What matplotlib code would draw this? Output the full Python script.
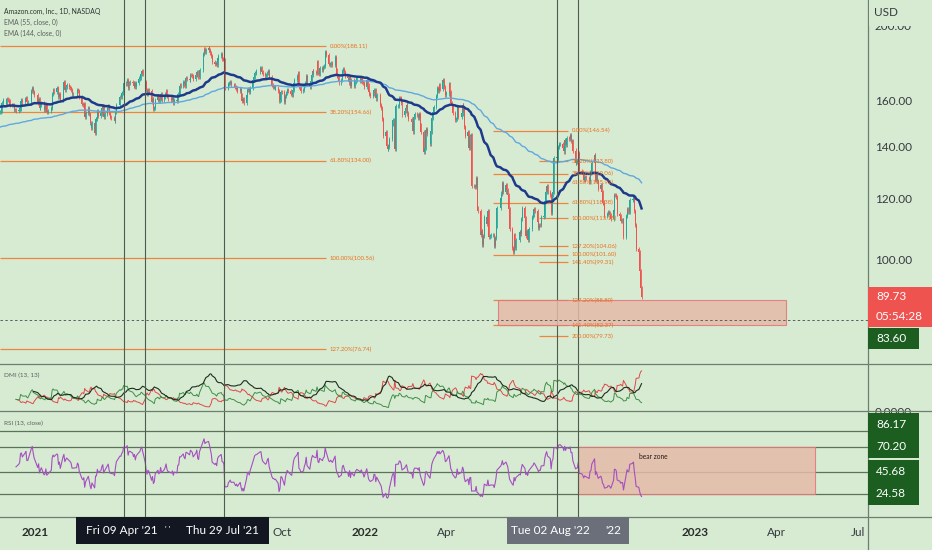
import numpy as np
import pandas as pd
import matplotlib
matplotlib.use("Agg")
import matplotlib.pyplot as plt
import matplotlib.dates as mdates
from matplotlib.patches import Rectangle
from matplotlib.ticker import NullLocator, NullFormatter

# AMZN daily closes (split adjusted), one list per month
close_2020_11 = [154.9, 155.4, 159.2, 160.3, 158.4]
close_2020_12 = [161.0, 160.6, 160.1, 158.1, 158.3, 158.1, 155.6, 155.9, 155.2, 156.0, 156.5,
                 160.0, 160.3, 159.3, 160.9, 161.6, 159.3, 159.3, 164.7, 166.1, 164.3, 162.8]
close_2021_01 = [159.3, 160.9, 156.9, 158.1, 159.1, 155.7, 156.0, 158.1, 155.0, 155.4, 156.9,
                 163.2, 165.1, 164.4, 166.1, 166.0, 162.0, 163.2, 160.3]
close_2021_02 = [167.1, 169.0, 165.5, 166.7, 167.9, 166.6, 166.2, 165.5, 163.3, 163.3, 163.5,
                 165.5, 164.9, 162.1, 158.5, 157.9, 158.6, 152.6, 154.6]
close_2021_03 = [156.8, 154.0, 150.1, 147.6, 150.0, 145.7, 151.5, 151.5, 155.2, 153.1, 154.2,
                 156.5, 157.6, 152.6, 153.8, 156.8, 157.8, 154.4, 152.4, 152.3, 152.0, 151.0, 154.7]
close_2021_04 = [158.0, 161.8, 161.7, 163.8, 164.5, 168.6, 168.5, 170.0, 166.4, 168.9, 169.3,
                 168.6, 167.3, 168.6, 166.6, 168.9, 171.0, 171.5, 173.4, 174.6, 173.4]
close_2021_05 = [169.2, 165.5, 163.5, 165.3, 164.7, 159.5, 161.1, 156.1, 156.9, 160.6, 162.4,
                 160.2, 160.8, 163.4, 160.5, 162.0, 163.1, 165.0, 162.3, 161.2]
close_2021_06 = [160.3, 161.2, 159.0, 160.3, 159.9, 163.2, 163.3, 167.5, 167.4, 169.2, 168.0,
                 167.5, 171.1, 171.0, 170.3, 172.9, 172.6, 172.3, 171.0, 172.8, 174.4, 172.0]
close_2021_07 = [171.6, 175.5, 183.8, 186.6, 184.9, 186.1, 187.1, 185.9, 184.5, 182.9, 179.6,
                 178.6, 179.2, 178.2, 181.7, 182.8, 184.1, 181.4, 181.3, 180.4, 166.4]
close_2021_08 = [166.6, 168.3, 168.8, 169.4, 167.8, 167.9, 166.6, 165.6, 166.1, 164.7, 165.9,
                 162.9, 160.2, 161.0, 159.0, 163.1, 165.5, 165.9, 164.4, 166.1, 170.2, 172.0]
close_2021_09 = [173.9, 174.5, 174.6, 176.2, 176.3, 174.2, 173.2, 172.2, 172.6, 173.9, 174.6,
                 172.0, 167.9, 166.9, 166.9, 166.4, 166.5, 164.7, 159.8, 160.6, 164.3]
close_2021_10 = [164.2, 159.5, 162.2, 163.9, 165.2, 164.6, 163.2, 162.9, 165.4, 168.7, 170.3,
                 172.3, 173.6, 166.9, 166.5, 165.0, 165.5, 167.6, 168.8, 172.3, 168.6]
close_2021_11 = [166.8, 169.9, 173.0, 175.0, 174.4, 174.0, 179.3, 174.0, 173.5, 176.3, 175.2,
                 177.0, 177.6, 184.8, 183.1, 178.5, 178.1, 179.1, 178.0, 182.2, 175.4]
close_2021_12 = [172.2, 171.4, 169.0, 170.2, 174.9, 176.0, 174.2, 172.2, 171.4, 169.0, 172.0,
                 167.2, 170.0, 167.5, 169.1, 170.4, 171.1, 169.7, 170.7, 169.2, 168.6, 166.7]
close_2022_01 = [170.4, 167.5, 164.4, 163.3, 162.6, 163.3, 165.4, 165.4, 161.2, 163.0, 158.1,
                 156.7, 151.9, 144.4, 146.1, 140.0, 138.9, 139.6, 143.0, 149.6]
close_2022_02 = [151.2, 151.3, 138.8, 157.6, 157.8, 161.4, 161.2, 159.0, 153.3, 155.2, 156.9,
                 158.1, 154.2, 151.5, 150.5, 146.2, 152.4, 153.8, 153.6]
close_2022_03 = [152.3, 154.0, 148.9, 145.9, 137.5, 139.3, 146.8, 147.2, 145.0, 140.9, 146.2,
                 152.3, 155.0, 157.4, 162.5, 166.2, 164.8, 167.6, 165.9, 170.0, 169.1, 166.9, 163.0]
close_2022_04 = [163.6, 168.3, 164.1, 159.0, 157.8, 154.5, 151.1, 151.8, 157.2, 152.6, 154.2,
                 157.9, 155.9, 148.3, 144.3, 146.1, 139.4, 144.4, 144.6, 124.3]
close_2022_05 = [124.5, 124.1, 127.4, 116.6, 115.7, 107.7, 108.9, 104.6, 107.4, 113.5, 111.1,
                 115.6, 107.1, 107.3, 107.6, 107.6, 104.1, 106.8, 110.4, 116.7, 120.2]
close_2022_06 = [121.7, 125.5, 122.3, 124.8, 123.0, 121.2, 116.1, 109.7, 103.7, 102.3, 107.7,
                 103.7, 106.2, 108.7, 108.0, 112.9, 116.5, 113.2, 107.4, 108.9, 106.2]
close_2022_07 = [109.6, 113.5, 114.3, 116.3, 115.5, 111.8, 110.0, 111.0, 110.8, 113.6, 113.8,
                 118.9, 122.4, 124.6, 122.4, 121.1, 114.8, 121.0, 122.3, 135.0]
close_2022_08 = [135.4, 134.2, 139.5, 140.8, 140.8, 139.4, 137.8, 142.7, 140.6, 143.6, 143.2,
                 144.8, 142.1, 142.3, 138.2, 133.2, 133.6, 133.8, 137.3, 130.2, 129.8, 128.7, 126.8]
close_2022_09 = [127.8, 127.5, 126.1, 129.5, 129.8, 133.3, 136.5, 126.8, 128.6, 126.3, 123.5,
                 124.7, 122.2, 118.5, 117.5, 114.0, 114.4, 115.1, 115.0, 114.1, 113.0]
close_2022_10 = [115.9, 121.1, 121.0, 120.3, 114.6, 113.7, 112.2, 112.5, 112.5, 106.9, 113.8,
                 116.4, 115.1, 115.3, 119.3, 119.8, 120.6, 115.7, 111.0, 103.4, 102.4]
close_2022_11 = [96.8, 92.1, 89.73]

months = [
    ("2020-11", close_2020_11), ("2020-12", close_2020_12), ("2021-01", close_2021_01),
    ("2021-02", close_2021_02), ("2021-03", close_2021_03), ("2021-04", close_2021_04),
    ("2021-05", close_2021_05), ("2021-06", close_2021_06), ("2021-07", close_2021_07),
    ("2021-08", close_2021_08), ("2021-09", close_2021_09), ("2021-10", close_2021_10),
    ("2021-11", close_2021_11), ("2021-12", close_2021_12), ("2022-01", close_2022_01),
    ("2022-02", close_2022_02), ("2022-03", close_2022_03), ("2022-04", close_2022_04),
    ("2022-05", close_2022_05), ("2022-06", close_2022_06), ("2022-07", close_2022_07),
    ("2022-08", close_2022_08), ("2022-09", close_2022_09), ("2022-10", close_2022_10),
    ("2022-11", close_2022_11),
]
market_holidays = ["2020-11-26", "2020-12-25", "2021-01-01", "2021-01-18", "2021-02-15",
                   "2021-04-02", "2021-05-31", "2021-07-05", "2021-09-06", "2021-11-25",
                   "2021-12-24", "2022-01-17", "2022-02-21", "2022-04-15", "2022-05-30",
                   "2022-06-20", "2022-07-04", "2022-09-05"]

# chart annotations
ema55_start, ema144_start = 157.5, 148.0
fib_main = [("0.00%", 188.11), ("38.20%", 154.66), ("61.80%", 134.00),
            ("100.00%", 100.56), ("127.20%", 76.74)]
fib_a = [("0.00%", 146.54), ("38.20%", 129.06), ("61.80%", 118.38), ("100.00%", 101.60),
         ("127.20%", 88.80), ("141.40%", 82.37)]
fib_b = [("38.20%", 133.80), ("61.80%", 125.92), ("100.00%", 113.15), ("127.20%", 104.06),
         ("141.40%", 99.31), ("200.00%", 79.73)]
vline_dates = ["2021-04-09", "2021-05-03", "2021-07-29", "2022-08-02", "2022-08-25"]
rsi_levels = [86.17, 70.20, 45.68, 24.58]
last_price, last_timer, marked_price = 89.73, "05:54:28", 83.60
time_ticks = ["2021-01-01", "2021-10-01", "2022-01-01", "2022-04-01",
              "2023-01-01", "2023-04-01", "2023-07-01"]
time_labels = ["2021", "Oct", "2022", "Apr", "2023", "Apr", "Jul"]
price_ticks = [100, 120, 140, 160, 200]

# ---- build dates / ohlc
hol = set(pd.to_datetime(market_holidays))
dates, closes = [], []
for i, (m, vals) in enumerate(months):
    start = pd.Timestamp(m + "-01")
    days = [d for d in pd.bdate_range(start, start + pd.offsets.MonthEnd(0)) if d not in hol]
    days = days[-len(vals):] if i == 0 else days[:len(vals)]
    dates += days
    closes += vals[:len(days)]
dates = pd.DatetimeIndex(dates)
closes = np.array(closes)
opens = np.r_[closes[0], closes[:-1]]
WICK = 0.006
highs = np.maximum(opens, closes) * (1 + WICK)
lows = np.minimum(opens, closes) * (1 - WICK)


def ema(x, n, seed):
    a = 2 / (n + 1)
    out = np.empty(len(x))
    prev = seed
    for i, v in enumerate(x):
        prev = a * v + (1 - a) * prev
        out[i] = prev
    return out


def rma(x, n):
    out = np.full(len(x), np.nan)
    out[n - 1] = np.mean(x[:n])
    for i in range(n, len(x)):
        out[i] = (out[i - 1] * (n - 1) + x[i]) / n
    return out


ema55 = ema(closes, 55, ema55_start)
ema144 = ema(closes, 144, ema144_start)

delta = np.diff(closes)
avg_gain = rma(np.clip(delta, 0, None), 13)
avg_loss = rma(np.clip(-delta, 0, None), 13)
rsi = 100 - 100 / (1 + avg_gain / avg_loss)

up_move = highs[1:] - highs[:-1]
down_move = lows[:-1] - lows[1:]
plus_dm = np.where((up_move > down_move) & (up_move > 0), up_move, 0.0)
minus_dm = np.where((down_move > up_move) & (down_move > 0), down_move, 0.0)
tr = np.maximum.reduce([highs[1:] - lows[1:], np.abs(highs[1:] - closes[:-1]),
                        np.abs(lows[1:] - closes[:-1])])
atr = rma(tr, 13)
plus_di = 100 * rma(plus_dm, 13) / atr
minus_di = 100 * rma(minus_dm, 13) / atr
dx = np.abs(plus_di - minus_di) / (plus_di + minus_di)
adx = np.full(len(dx), np.nan)
adx[12 + 12:] = 100 * rma(dx[12:], 13)[12:]

# ---- figure
BG = "#d7ebd3"
TXT = "#363a3f"
W, H = 932, 550
plt.rcParams["font.family"] = ["Lato", "DejaVu Sans"]
fig = plt.figure(figsize=(W / 100, H / 100), dpi=100, facecolor=BG)


def frame(x0, y0, x1, y1):
    return [x0 / W, 1 - y1 / H, (x1 - x0) / W, (y1 - y0) / H]


def fig_rect(x0, y0, x1, y1, fc, ec="none", z=5):
    fig.add_artist(Rectangle((x0 / W, 1 - y1 / H), (x1 - x0) / W, (y1 - y0) / H,
                             transform=fig.transFigure, fc=fc, ec=ec, lw=0.8, zorder=z))


def fig_text(x, y, s, **kw):
    kw.setdefault("zorder", 7)
    fig.text(x / W, 1 - y / H, s, **kw)


ax = fig.add_axes(frame(0, 0, 868, 364))
dax = fig.add_axes(frame(0, 364, 868, 411), sharex=ax)
rax = fig.add_axes(frame(0, 411, 868, 517), sharex=ax)
for a in (ax, dax, rax):
    a.set_facecolor(BG)
    for s in a.spines.values():
        s.set_visible(False)

x_left = pd.Timestamp("2021-01-01") - pd.Timedelta(days=38.7)
x_right = x_left + pd.Timedelta(days=960.2)
ax.set_xlim(x_left, x_right)
ax.set_yscale("log")
ax.set_ylim(73.5, 215.7)

# candles
up = closes >= opens
colors = np.where(up, "#26a69a", "#ef5350")
ax.vlines(dates, lows, highs, colors=colors, lw=0.6, zorder=3)
body = np.maximum(np.abs(closes - opens), 0.12)
ax.bar(dates, body, bottom=np.minimum(opens, closes), width=1.1, color=colors,
       linewidth=0, zorder=3)

ax.plot(dates, ema144, color="#5fa8e0", lw=1.0, zorder=4)
ax.plot(dates, ema55, color="#1e3a8a", lw=1.8, zorder=4)

# fibonacci levels
FIB = "#f0843c"
FIB_TXT = "#e8701c"
fib_sets = [(fib_main, x_left, pd.Timestamp("2021-11-19"), pd.Timestamp("2021-11-23")),
            (fib_a, pd.Timestamp("2022-05-23"), pd.Timestamp("2022-08-14"), pd.Timestamp("2022-08-18")),
            (fib_b, pd.Timestamp("2022-07-13"), pd.Timestamp("2022-08-14"), pd.Timestamp("2022-08-18"))]
for levels, x0, x1, xt in fib_sets:
    for name, p in levels:
        ax.hlines(p, x0, x1, color=FIB, lw=0.9, zorder=2)
        ax.text(xt, p, f"{name}({p:.2f})", fontsize=4.3, color=FIB_TXT, va="center",
                ha="left", zorder=6)

# zone boxes
zx0 = mdates.date2num(pd.Timestamp("2022-05-28"))
zx1 = mdates.date2num(pd.Timestamp("2023-04-12"))
ax.add_patch(Rectangle((zx0, 82.37), zx1 - zx0, 88.80 - 82.37, fc="#e4baa8",
                       ec="#e57373", lw=0.8, alpha=0.85, zorder=5))
ax.axhline(marked_price, color="#5a5f5a", lw=0.7, ls=(0, (2.5, 2.5)), zorder=5)

# DMI pane
dax.plot(dates[1:], minus_di, color="#e04848", lw=0.7)
dax.plot(dates[1:], plus_di, color="#3f8f46", lw=0.7)
dax.plot(dates[1:], adx, color="#1d2d1d", lw=0.8)
dax.set_ylim(0, 60)

# RSI pane
rax.plot(dates[1:], rsi, color="#a550c0", lw=0.8, zorder=4)
rax.set_ylim(2.2, 105.1)
for lv in rsi_levels:
    rax.axhline(lv, color="#5b735b", lw=0.9, zorder=2)
bz0 = mdates.date2num(pd.Timestamp("2022-08-25"))
bz1 = mdates.date2num(pd.Timestamp("2023-05-14"))
rax.add_patch(Rectangle((bz0, 24.58), bz1 - bz0, 70.20 - 24.58, fc="#e4baa8",
                        ec="#e57373", lw=0.8, alpha=0.85, zorder=3))
rax.text(mdates.date2num(pd.Timestamp("2022-11-16")), 60.5, "bear zone", fontsize=4.8,
         color="#2a1a1a", ha="center", va="center", zorder=5)

for d in vline_dates:
    for a in (ax, dax, rax):
        a.axvline(pd.Timestamp(d), color="#4f5b4f", lw=0.8, zorder=4)

# axes ticks
ax.yaxis.tick_right()
ax.yaxis.set_minor_locator(NullLocator())
ax.yaxis.set_minor_formatter(NullFormatter())
ax.set_yticks(price_ticks)
ax.set_yticklabels([f"{t:.2f}" for t in price_ticks])
ax.tick_params(axis="y", length=0, pad=5, labelsize=8.5, labelcolor=TXT)
ax.tick_params(axis="x", length=0, labelbottom=False)

dax.yaxis.tick_right()
dax.set_yticks([0])
dax.set_yticklabels(["0.0000"])
dax.tick_params(axis="y", length=0, pad=5, labelsize=8.5, labelcolor=TXT)
dax.tick_params(axis="x", length=0, labelbottom=False)

rax.set_yticks([])
rax.set_xticks([pd.Timestamp(t) for t in time_ticks])
rax.set_xticklabels(time_labels)
rax.tick_params(axis="x", length=0, pad=7, labelsize=8.5, labelcolor=TXT)
for lab in rax.get_xticklabels():
    if lab.get_text().isdigit():
        lab.set_fontweight("bold")
        lab.set_color("#2a2e2a")

# separators
for y in (364, 411, 517):
    fig.add_artist(plt.Line2D([0, 1], [1 - y / H] * 2, transform=fig.transFigure,
                              color="#6f7f6f", lw=0.9, zorder=6))
fig.add_artist(plt.Line2D([868 / W] * 2, [0, 1], transform=fig.transFigure,
                          color="#6f7f6f", lw=0.9, zorder=6))

# top of price scale covered by the currency label
fig_rect(869, 0, 932, 26, BG, z=6)
fig_text(874, 13, "USD", fontsize=8.5, color=TXT, va="center")


def price_y(p):
    return H - ax.transData.transform((0, p))[1]


def rsi_y(v):
    return H - rax.transData.transform((0, v))[1]


# price scale tags
ly = price_y(last_price)
fig_rect(868, ly - 10, 932, ly + 30, "#ef5350", z=8)
fig_text(876, ly, f"{last_price:.2f}", fontsize=8.5, color="white", va="center", zorder=9)
fig_text(876, ly + 20, last_timer, fontsize=8.5, color="white", va="center", zorder=9)
fig_rect(868, ly + 31, 919, ly + 52, "#1b5e20", z=8)
fig_text(876, ly + 41.5, f"{marked_price:.2f}", fontsize=8.5, color="white", va="center", zorder=9)

tag_y = [rsi_y(rsi_levels[1]) - 22, rsi_y(rsi_levels[1]),
         rsi_y(rsi_levels[3]) - 22, rsi_y(rsi_levels[3])]
fig_rect(868, tag_y[0] - 12, 919, tag_y[1] + 11, "#1b5e20", z=8)
fig_rect(868, tag_y[2] - 12, 919, tag_y[3] + 11, "#1b5e20", z=8)
for yv, lv in zip(tag_y, rsi_levels):
    fig_text(876, yv, f"{lv:.2f}", fontsize=8.5, color="white", va="center", zorder=9)

# legends
fig_text(4, 11, "Amazon.com, Inc., 1D, NASDAQ", fontsize=4.9, color="#2f332f", va="center")
fig_text(4, 22, "EMA (55, close, 0)", fontsize=4.9, color="#5a5e5a", va="center")
fig_text(4, 33, "EMA (144, close, 0)", fontsize=4.9, color="#5a5e5a", va="center")
fig_text(4, 375, "DMI (13, 13)", fontsize=4.6, color="#5a5e5a", va="center")
fig_text(4, 423, "RSI (13, close)", fontsize=4.6, color="#5a5e5a", va="center")

# crosshair date tooltips
fig_rect(76, 517, 269, 544, "#131722", z=8)
fig_text(122, 531, "Fri 09 Apr '21", fontsize=8.5, color="white", ha="center", va="center", zorder=9)
fig_text(168, 529, "' '", fontsize=6, color="white", ha="center", va="center", zorder=9)
fig_text(223, 531, "Thu 29 Jul '21", fontsize=8.5, color="white", ha="center", va="center", zorder=9)
fig_rect(507, 517, 629, 544, "#6b6f7a", z=8)
fig_text(550, 531, "Tue 02 Aug '22", fontsize=8.5, color="white", ha="center", va="center", zorder=9)
fig_text(613, 531, "'22", fontsize=8.5, color="white", ha="center", va="center", zorder=9)

fig.savefig("out.png", dpi=100, facecolor=BG)
